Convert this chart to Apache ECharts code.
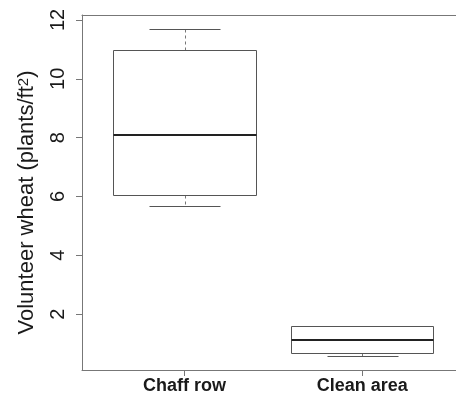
<!DOCTYPE html>
<html>
<head>
<meta charset="utf-8">
<script src="https://cdn.jsdelivr.net/npm/echarts@6/dist/echarts.min.js"></script>
<style>
  html, body { margin: 0; padding: 0; background: #fff; }
  #chart { width: 456px; height: 400px; }
</style>
</head>
<body>
<div id="chart"></div>
<script>
// ---- data ----
const categories = ['Chaff row', 'Clean area'];
const lowerWhisker = [5.67, 0.56];
const q1 = [6.04, 0.67];
const median = [8.09, 1.12];
const q3 = [10.98, 1.59];
const upperWhisker = [11.70, 1.59];
const yTicks = [2, 4, 6, 8, 10, 12];
const yMin = 0.1, yMax = 12.17;

const boxData = categories.map((c, i) => [i, lowerWhisker[i], q1[i], median[i], q3[i], upperWhisker[i]]);

const chart = echarts.init(document.getElementById('chart'));

function crisp(v) { return Math.round(v) + 0.5; }

function renderItem(params, api) {
  const x = api.value(0);
  const lo = api.value(1), b1 = api.value(2), md = api.value(3), b3 = api.value(4), hi = api.value(5);
  const band = api.size([1, 0])[0];
  const boxW = band * 0.8, capW = band * 0.4;
  const cx = api.coord([x, md])[0];
  const yLo = crisp(api.coord([x, lo])[1]);
  const y1 = crisp(api.coord([x, b1])[1]);
  const yMd = api.coord([x, md])[1];
  const y3 = crisp(api.coord([x, b3])[1]);
  const yHi = crisp(api.coord([x, hi])[1]);
  const xl = crisp(cx - boxW / 2), xr = crisp(cx + boxW / 2);
  const cxc = crisp(cx);
  const line = (x1, yy1, x2, yy2, style) => ({
    type: 'line', shape: { x1: x1, y1: yy1, x2: x2, y2: yy2 }, style: style
  });
  const dash = { stroke: '#777', lineWidth: 1, lineDash: [3, 3] };
  const solid = { stroke: '#555', lineWidth: 1 };
  return {
    type: 'group',
    children: [
      line(cxc, y3, cxc, yHi, dash),
      line(cxc, y1, cxc, yLo, dash),
      line(crisp(cx - capW / 2), yHi, crisp(cx + capW / 2), yHi, solid),
      line(crisp(cx - capW / 2), yLo, crisp(cx + capW / 2), yLo, solid),
      { type: 'rect', shape: { x: xl, y: y3, width: xr - xl, height: y1 - y3 },
        style: { fill: '#fff', stroke: '#555', lineWidth: 1 } },
      line(xl, Math.round(yMd), xr, Math.round(yMd), { stroke: '#222', lineWidth: 2 })
    ]
  };
}

const frameLine = { show: true, lineStyle: { color: '#777', width: 1 } };

chart.setOption({
  animation: false,
  backgroundColor: '#fff',
  grid: [
    { left: 82, top: 15, bottom: 30, right: 0 },
    { left: 95.6, top: 15, bottom: 30, width: 355.6 }
  ],
  xAxis: [
    { gridIndex: 0, type: 'value', min: 0, max: 1, position: 'bottom',
      axisLine: frameLine, axisTick: { show: false }, axisLabel: { show: false }, splitLine: { show: false } },
    { gridIndex: 1, type: 'category', data: categories, boundaryGap: true,
      axisLine: { show: false },
      axisTick: { show: true, alignWithLabel: true, length: 6, lineStyle: { color: '#777' } },
      axisLabel: { margin: 7, fontSize: 18, fontWeight: 'bold', color: '#1a1a1a',
        fontFamily: "'Liberation Sans', sans-serif" },
      splitLine: { show: false } },
    { gridIndex: 0, type: 'value', min: 0, max: 1, position: 'top',
      axisLine: frameLine, axisTick: { show: false }, axisLabel: { show: false }, splitLine: { show: false } }
  ],
  yAxis: [
    { gridIndex: 0, type: 'value', min: yMin, max: yMax,
      name: 'Volunteer wheat (plants/ft{sup|2})',
      nameLocation: 'middle', nameRotate: 90, nameGap: 44,
      nameTextStyle: { fontSize: 22, color: '#1a1a1a', fontFamily: "'Liberation Sans', sans-serif",
        padding: [0, 20, 0, 0],
        rich: { sup: { fontSize: 15, verticalAlign: 'top', padding: [0, 0, 6, 0], color: '#1a1a1a', fontFamily: "'Liberation Sans', sans-serif" } } },
      axisLine: frameLine,
      axisTick: { show: true, length: 6, customValues: yTicks, lineStyle: { color: '#777' } },
      axisLabel: { rotate: 90, margin: 14, fontSize: 20, color: '#1a1a1a', customValues: yTicks,
        fontFamily: "'Liberation Sans', sans-serif" },
      splitLine: { show: false } },
    { gridIndex: 1, type: 'value', min: yMin, max: yMax, show: false }
  ],
  series: [{
    type: 'custom',
    xAxisIndex: 1, yAxisIndex: 1,
    renderItem: renderItem,
    encode: { x: 0, y: [1, 2, 3, 4, 5] },
    data: boxData
  }]
});
</script>
</body>
</html>
